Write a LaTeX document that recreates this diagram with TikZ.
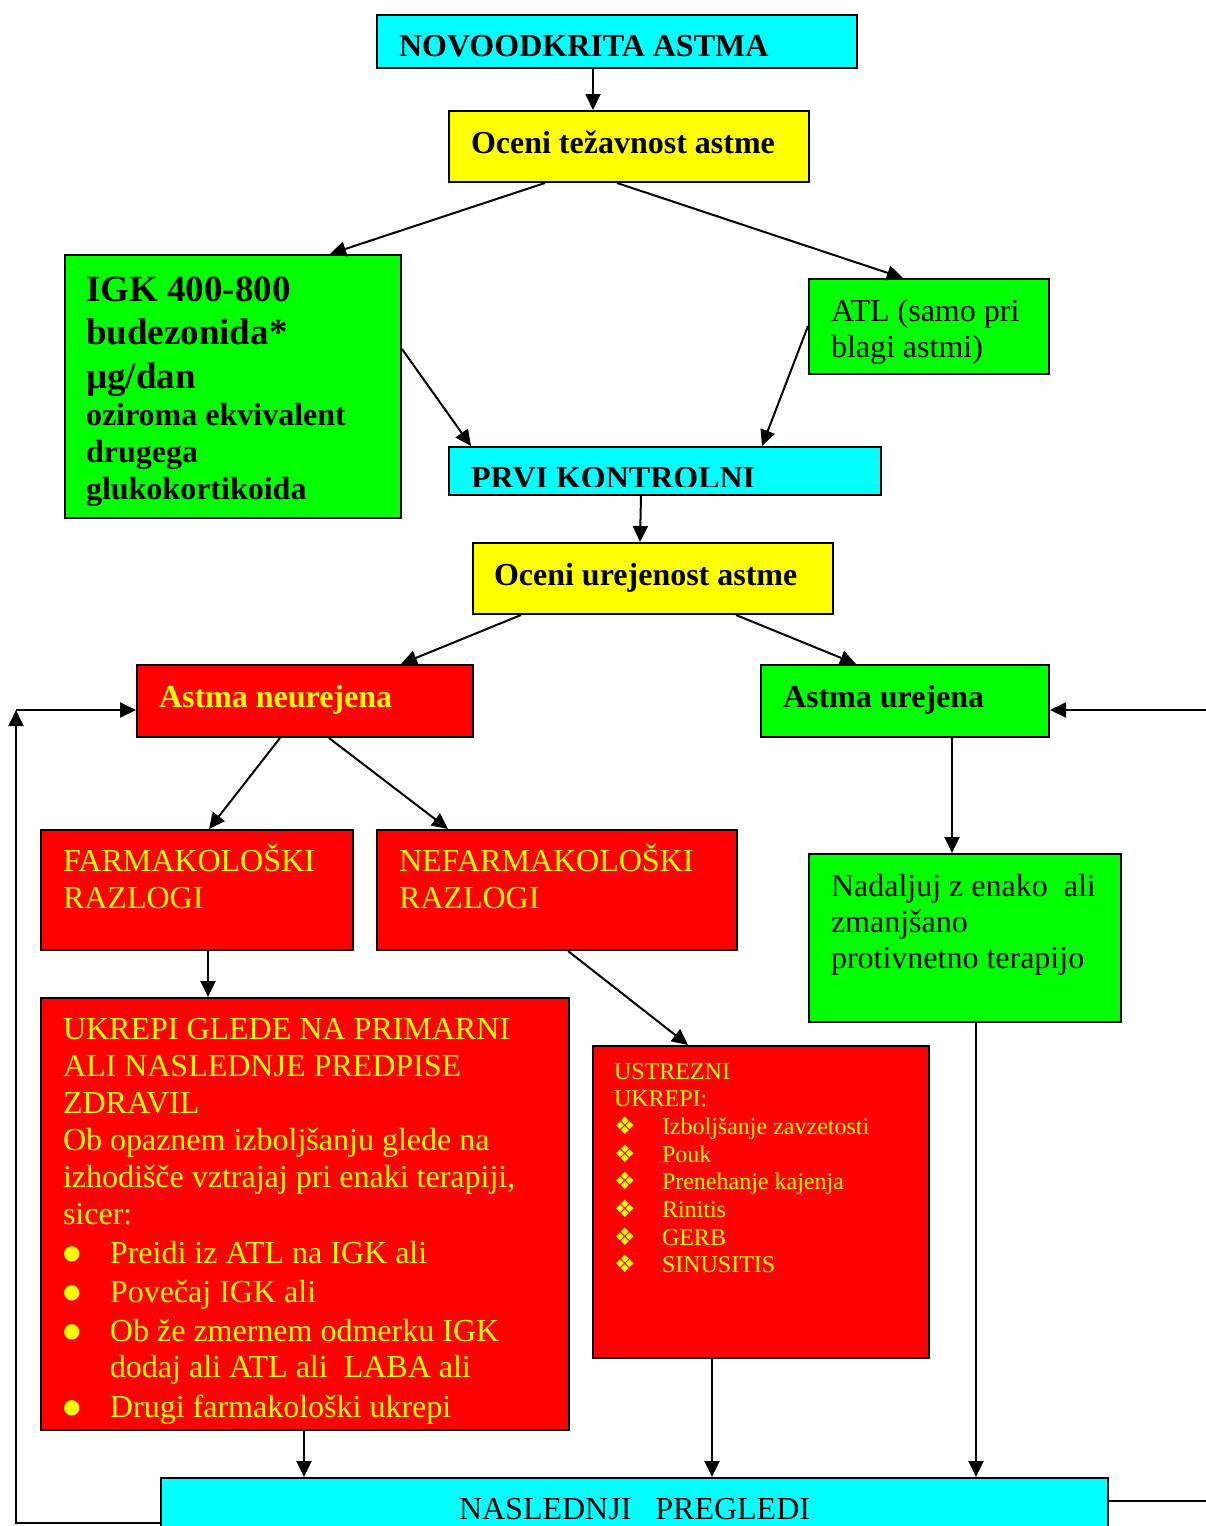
\documentclass[tikz,border=0pt]{standalone}
\usepackage{fontspec}
\setmainfont{Liberation Serif}
\newfontfamily\dingfont{DejaVu Sans}
\usepackage{adjustbox}
\usetikzlibrary{arrows.meta, positioning}
\definecolor{boxcyan}{RGB}{0, 255, 255}
\definecolor{boxyellow}{RGB}{255, 255, 0}
\definecolor{boxgreen}{RGB}{0, 255, 0}
\definecolor{boxred}{RGB}{255, 0, 0}
\definecolor{textyellow}{RGB}{255, 255, 0}
% width, height, left margin, first baseline, text
\newcommand{\boxtext}[5]{\parbox[c][#2pt][t]{#1pt}{\raggedright\leftskip=#3pt\rule{0pt}{#4pt}#5}}
\newcommand{\dmd}{\makebox[48pt][l]{\dingfont ❖}}
\newcommand{\blt}{\makebox[47pt][l]{\raisebox{4pt}{\dingfont\fontsize{20}{20}\selectfont ●}}}

\begin{document}
\begin{tikzpicture}[
    x=1pt, y=-1pt,
    box/.style={draw, line width=2pt, inner sep=0pt, anchor=north west, font=\fontsize{32}{37}\selectfont},
    cyanbox/.style={box, fill=boxcyan},
    yellowbox/.style={box, fill=boxyellow},
    greenbox/.style={box, fill=boxgreen},
    redbox/.style={box, fill=boxred, text=textyellow},
    arr/.style={-{Triangle[length=16pt, width=15pt]}, line width=2pt},
    line/.style={line width=2pt}
]
    \useasboundingbox (0, 0) rectangle (1206, 1526);

    % Boxes
    \node[cyanbox] (novo) at (376, 14) {\boxtext{480}{53}{22}{41}{\bfseries NOVOODKRITA ASTMA}};
    \node[yellowbox] (tez) at (448, 110) {\boxtext{360}{71}{22}{42}{\bfseries Oceni težavnost astme}};
    \node[greenbox] (igk) at (64, 254) {\boxtext{336}{263}{21}{46}{\bfseries
        {\fontsize{37}{43.5}\selectfont IGK 400-800\\ budezonida*\\ µg/dan\par}
        {\fontsize{32}{37}\selectfont oziroma ekvivalent\\ drugega\\ glukokortikoida\par}}};
    \node[greenbox] (atl) at (808, 278) {\boxtext{240}{95}{22}{42}{ATL (samo pri\\[-1pt] blagi astmi)}};
    \node[cyanbox] (prvi) at (448, 446) {\boxtext{432}{48}{22}{39}{\bfseries\clipbox{0pt 3pt 0pt 0pt}{PRVI KONTROLNI}}};
    \node[yellowbox] (ure) at (472, 542) {\boxtext{360}{71}{21}{42}{\bfseries Oceni urejenost astme}};
    \node[redbox] (neu) at (136, 664) {\boxtext{336}{72}{22}{42}{\bfseries Astma neurejena}};
    \node[greenbox] (urej) at (760, 664) {\boxtext{288}{72}{22}{42}{\bfseries Astma urejena}};
    \node[redbox] (farm) at (40, 829) {\boxtext{312}{120}{22}{41}{FARMAKOLOŠKI\\ RAZLOGI}};
    \node[redbox] (nefarm) at (376, 829) {\boxtext{360}{120}{22}{41}{NEFARMAKOLOŠKI\\ RAZLOGI}};
    \node[greenbox] (nad) at (808, 853) {\boxtext{312}{168}{22}{42}{Nadaljuj z enako~ ali\\[-1pt] zmanjšano\\[-1pt] protivnetno terapijo}};
    \node[redbox] (ukr) at (40, 997) {\boxtext{528}{432}{22}{41}{UKREPI GLEDE NA PRIMARNI\\
        ALI NASLEDNJE PREDPISE\\
        ZDRAVIL\\
        Ob opaznem izboljšanju glede na\\
        izhodišče vztrajaj pri enaki terapiji,\\
        sicer:\\[2pt]
        \blt Preidi iz ATL na IGK ali\\[2pt]
        \blt Povečaj IGK ali\\[2pt]
        \blt Ob že zmernem odmerku IGK\\[-1pt]
        \hspace*{47pt}dodaj ali ATL ali~ LABA ali\\[3pt]
        \blt Drugi farmakološki ukrepi}};
    \node[redbox, font=\fontsize{24}{27.7}\selectfont] (ust) at (592, 1045) {\boxtext{336}{312}{21}{33}{USTREZNI\\
        UKREPI:\\
        \dmd Izboljšanje zavzetosti\\
        \dmd Pouk\\
        \dmd Prenehanje kajenja\\
        \dmd Rinitis\\
        \dmd GERB\\
        \dmd SINUSITIS}};
    \node[cyanbox] (nasl) at (160, 1477) {\boxtext{947}{100}{298}{41}{NASLEDNJI\ \ \ PREGLEDI}};

    % Loop ends
    \coordinate (lbot) at (16, 1523);
    \coordinate (ltop) at (16, 710);
    \coordinate (rbot) at (1230, 1501);
    \coordinate (rtop) at (1230, 710);

    % Flow
    \draw[arr] ([xshift=217pt]novo.south west) -- ([xshift=145pt]tez.north west);
    \draw[arr] ([xshift=97pt]tez.south west) -- ([xshift=266pt]igk.north west);
    \draw[arr] ([xshift=169pt]tez.south west) -- ([xshift=95pt]atl.north west);
    \draw[arr] ([yshift=-95pt]igk.north east) -- ([xshift=23pt]prvi.north west);
    \draw[arr] ([yshift=-48pt]atl.north west) -- ([xshift=314pt]prvi.north west);
    \draw[arr] ([xshift=193pt]prvi.south west) -- ([xshift=168pt]ure.north west);
    \draw[arr] ([xshift=49pt]ure.south west) -- ([xshift=265pt]neu.north west);
    \draw[arr] ([xshift=264pt]ure.south west) -- ([xshift=96pt]urej.north west);
    \draw[arr] ([xshift=144pt]neu.south west) -- ([xshift=169pt]farm.north west);
    \draw[arr] ([xshift=193pt]neu.south west) -- ([xshift=72pt]nefarm.north west);
    \draw[arr] ([xshift=192pt]urej.south west) -- ([xshift=144pt]nad.north west);
    \draw[arr] ([xshift=168pt]farm.south west) -- ([xshift=168pt]ukr.north west);
    \draw[arr] ([xshift=192pt]nefarm.south west) -- ([xshift=96pt]ust.north west);
    \draw[arr] ([xshift=264pt]ukr.south west) -- ([xshift=144pt]nasl.north west);
    \draw[arr] ([xshift=120pt]ust.south west) -- ([xshift=552pt]nasl.north west);
    \draw[arr] ([xshift=168pt]nad.south west) -- ([xshift=816pt]nasl.north west);

    % Feedback
    \draw[arr] ([yshift=-46pt]nasl.north west) -- (lbot) -- (ltop);
    \draw[arr] (ltop) -- ([yshift=-46pt]neu.north west);
    \draw[line] ([yshift=-24pt]nasl.north east) -- (rbot) -- (rtop);
    \draw[arr] (rtop) -- ([yshift=-46pt]urej.north east);
\end{tikzpicture}
\end{document}
